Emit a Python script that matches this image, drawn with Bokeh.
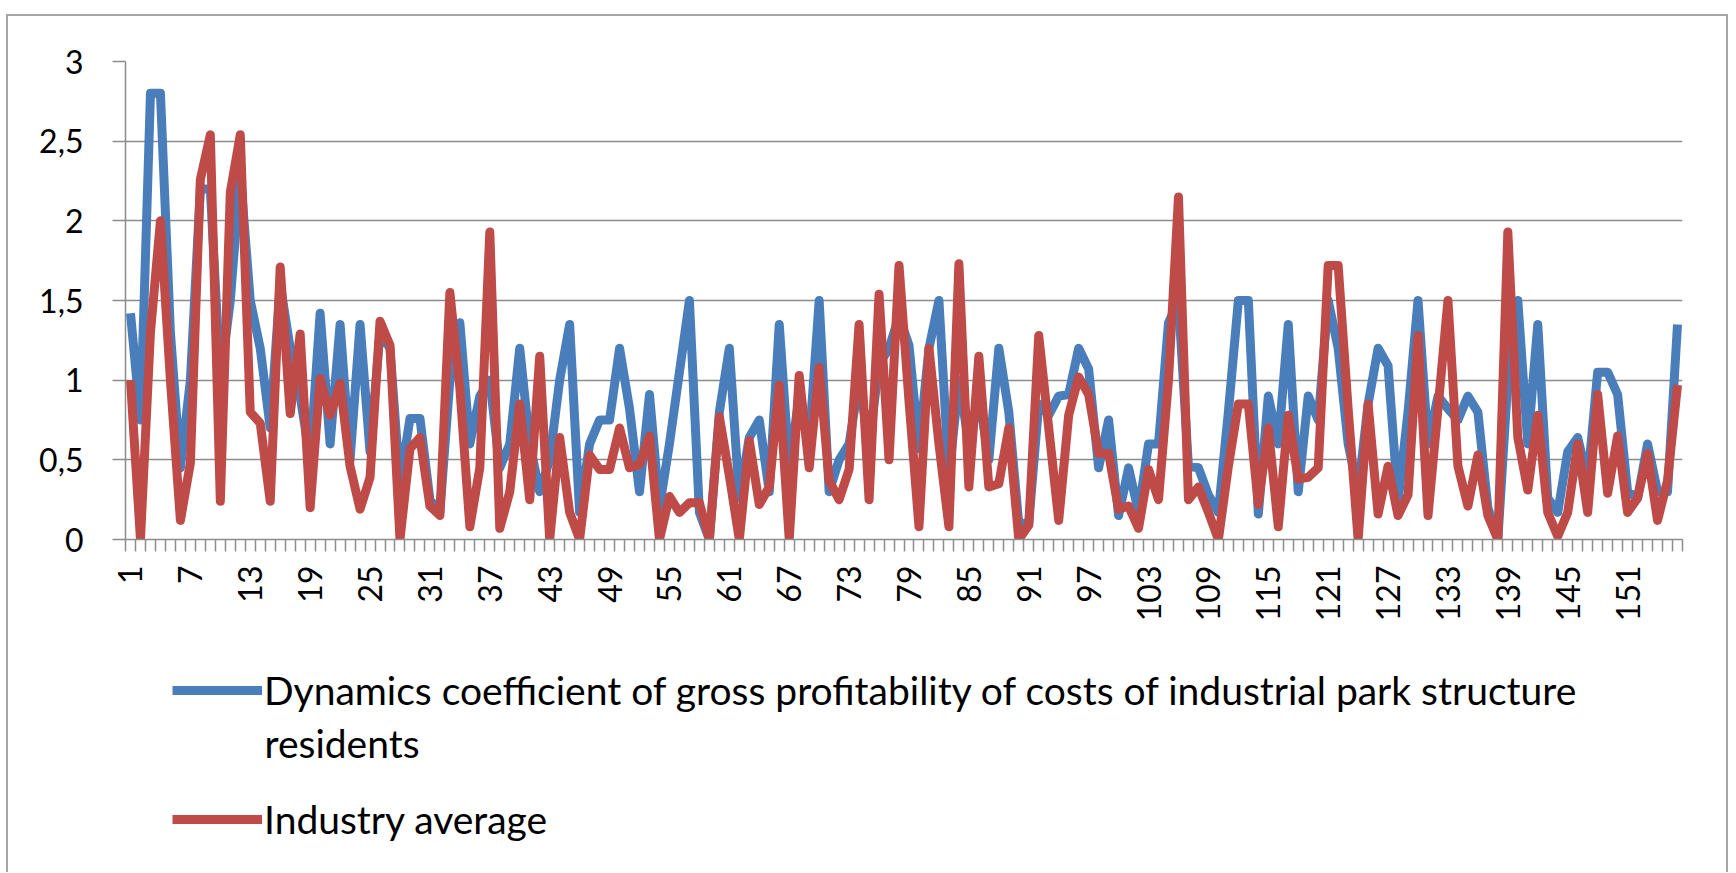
from bokeh.plotting import figure
from bokeh.layouts import column
from bokeh.models import ColumnDataSource, Range1d, FixedTicker, Legend, LegendItem, Label
from bokeh.embed import file_html
from bokeh.resources import INLINE

categories = list(range(1, 157))

resident_coef = [
    1.42, 0.75, 2.8, 2.8, 1.3, 0.45, 1.0, 2.2, 2.2, 1.0,
    1.5, 2.3, 1.5, 1.2, 0.7, 1.6, 1.2, 0.9, 0.5, 1.42,
    0.6, 1.35, 0.5, 1.35, 0.55, 1.3, 1.2, 0.35, 0.76, 0.76,
    0.25, 0.17, 1.0, 1.36, 0.6, 0.9, 1.0, 0.45, 0.6, 1.2,
    0.6, 0.3, 0.5, 1.0, 1.35, 0.17, 0.6, 0.75, 0.75, 1.2,
    0.82, 0.3, 0.91, 0.2, 0.6, 1.05, 1.5, 0.17, 0.0, 0.8,
    1.2, 0.26, 0.64, 0.75, 0.3, 1.35, 0.45, 0.9, 0.6, 1.5,
    0.3, 0.5, 0.6, 1.0, 0.6, 1.1, 1.2, 1.4, 1.22, 0.57,
    1.2, 1.5, 0.4, 1.0, 0.6, 0.9, 0.5, 1.2, 0.8, 0.1,
    0.1, 0.85, 0.78, 0.9, 0.91, 1.2, 1.07, 0.45, 0.75, 0.15,
    0.45, 0.17, 0.6, 0.6, 1.36, 1.5, 0.46, 0.45, 0.28, 0.17,
    0.8, 1.5, 1.5, 0.16, 0.9, 0.6, 1.35, 0.3, 0.9, 0.75,
    1.5, 1.2, 0.6, 0.3, 0.85, 1.2, 1.09, 0.24, 0.8, 1.5,
    0.6, 0.9, 0.82, 0.75, 0.9, 0.8, 0.2, 0.0, 1.0, 1.5,
    0.6, 1.35, 0.26, 0.17, 0.55, 0.64, 0.37, 1.05, 1.05, 0.91,
    0.3, 0.26, 0.6, 0.3, 0.3, 1.35,
]

industry_avg = [
    1.0, 0.0, 1.3, 2.0, 1.0, 0.12, 0.48, 2.26, 2.54, 0.24,
    2.18, 2.54, 0.8, 0.73, 0.24, 1.71, 0.79, 1.29, 0.2, 1.01,
    0.78, 0.98, 0.46, 0.19, 0.39, 1.37, 1.22, 0.0, 0.57, 0.64,
    0.21, 0.15, 1.55, 0.95, 0.08, 0.45, 1.93, 0.07, 0.3, 0.85,
    0.25, 1.15, 0.0, 0.64, 0.17, 0.0, 0.53, 0.44, 0.44, 0.7,
    0.45, 0.47, 0.65, 0.0, 0.27, 0.17, 0.23, 0.23, 0.0, 0.77,
    0.4, 0.0, 0.62, 0.22, 0.33, 0.97, 0.0, 1.03, 0.45, 1.08,
    0.37, 0.25, 0.44, 1.35, 0.25, 1.54, 0.5, 1.72, 0.87, 0.08,
    1.2, 0.6, 0.08, 1.73, 0.33, 1.15, 0.33, 0.35, 0.7, 0.0,
    0.09, 1.28, 0.7, 0.12, 0.78, 1.02, 0.91, 0.54, 0.54, 0.19,
    0.21, 0.07, 0.44, 0.25, 1.0, 2.15, 0.25, 0.33, 0.17, 0.0,
    0.46, 0.85, 0.85, 0.22, 0.7, 0.08, 0.78, 0.38, 0.39, 0.45,
    1.72, 1.72, 0.82, 0.0, 0.85, 0.16, 0.46, 0.15, 0.28, 1.28,
    0.15, 0.82, 1.5, 0.46, 0.21, 0.53, 0.15, 0.0, 1.93, 0.64,
    0.31, 0.78, 0.17, 0.02, 0.17, 0.6, 0.17, 0.91, 0.29, 0.65,
    0.17, 0.26, 0.54, 0.12, 0.37, 0.97,
]

x_label_categories = [1, 7, 13, 19, 25, 31, 37, 43, 49, 55, 61, 67, 73, 79, 85,
                      91, 97, 103, 109, 115, 121, 127, 133, 139, 145, 151]
y_ticks = [0, 0.5, 1, 1.5, 2, 2.5, 3]
y_tick_labels = ["0", "0,5", "1", "1,5", "2", "2,5", "3"]

series_names = [
    "Dynamics coefficient of gross profitability of costs of industrial park structure",
    "residents",
    "Industry average",
]

FONT = "Lato"
GRID = "#8c8c8c"
BLUE = "#4A7EBB"
RED = "#BE4B48"
LW = 9
AX_FS = "32px"

src = ColumnDataSource(dict(x=categories, blue=resident_coef, red=industry_avg))

# ---------------- main chart ----------------
p = figure(
    width=1718, height=634,
    output_backend="svg", toolbar_location=None,
    x_range=Range1d(0.5, len(categories) + 0.5),
    y_range=Range1d(0, 3),
    min_border_left=117, min_border_right=44, min_border_top=45, min_border_bottom=111,
)
p.outline_line_color = None

p.line("x", "blue", source=src, line_color=BLUE, line_width=LW, line_join="round")
p.line("x", "red", source=src, line_color=RED, line_width=LW, line_join="round")

boundaries = [c - 0.5 for c in categories] + [categories[-1] + 0.5]
xax = p.xaxis[0]
xax.ticker = FixedTicker(ticks=x_label_categories, minor_ticks=boundaries)
xax.major_tick_out = 0
xax.major_tick_in = 0
xax.minor_tick_out = 12
xax.minor_tick_in = 0
xax.minor_tick_line_color = GRID
xax.minor_tick_line_width = 1.5
xax.axis_line_color = GRID
xax.axis_line_width = 1.5
xax.major_label_orientation = 1.5707963
xax.major_label_standoff = 14
xax.major_label_text_font = FONT
xax.major_label_text_font_size = AX_FS
xax.major_label_text_color = "black"

yax = p.yaxis[0]
yax.ticker = FixedTicker(ticks=y_ticks, minor_ticks=[])
yax.major_label_overrides = {t: l for t, l in zip(y_ticks, y_tick_labels)}
yax.major_tick_out = 13
yax.major_tick_in = 0
yax.major_tick_line_color = GRID
yax.major_tick_line_width = 1.5
yax.axis_line_color = GRID
yax.axis_line_width = 1.5
yax.major_label_standoff = 29
yax.major_label_text_font = FONT
yax.major_label_text_font_size = AX_FS
yax.major_label_text_color = "black"

p.xgrid.visible = False
p.ygrid.ticker = FixedTicker(ticks=y_ticks)
p.ygrid.grid_line_color = GRID
p.ygrid.grid_line_width = 1.5

# ---------------- legend strip ----------------
pl = figure(
    width=1718, height=222,
    output_backend="svg", toolbar_location=None,
    x_range=Range1d(-10, -9), y_range=Range1d(0, 1),
    x_axis_location=None, y_axis_location=None,
    min_border=0,
)
pl.outline_line_color = None
pl.grid.visible = False
lb = pl.line("x", "blue", source=src, line_color=BLUE, line_width=LW)
lr = pl.line("x", "red", source=src, line_color=RED, line_width=LW)

LEG_FS = "39px"
leg1 = Legend(items=[LegendItem(label=series_names[0], renderers=[lb])], location=(47, 158))
leg2 = Legend(items=[LegendItem(label=series_names[2], renderers=[lr])], location=(47, 29))
for lg in (leg1, leg2):
    lg.glyph_width = 90
    lg.glyph_height = 48
    lg.label_height = 48
    lg.label_standoff = 2
    lg.padding = 0
    lg.margin = 0
    lg.border_line_color = None
    lg.background_fill_alpha = 0
    lg.label_text_font = FONT
    lg.label_text_font_size = LEG_FS
    lg.label_text_color = "black"
    pl.add_layout(lg)

pl.add_layout(Label(x=47 + 92, y=130, x_units="screen", y_units="screen",
                    text=series_names[1], text_font=FONT, text_font_size=LEG_FS,
                    text_color="black", text_baseline="middle"))

layout = column(p, pl, spacing=0)
layout.styles = {"margin-top": "14px", "margin-left": "6px",
                 "border-top": "2px solid #a6a6a6", "border-left": "2px solid #a6a6a6",
                 "border-right": "2px solid #a6a6a6"}

open("out.html", "w").write(file_html(layout, INLINE))
